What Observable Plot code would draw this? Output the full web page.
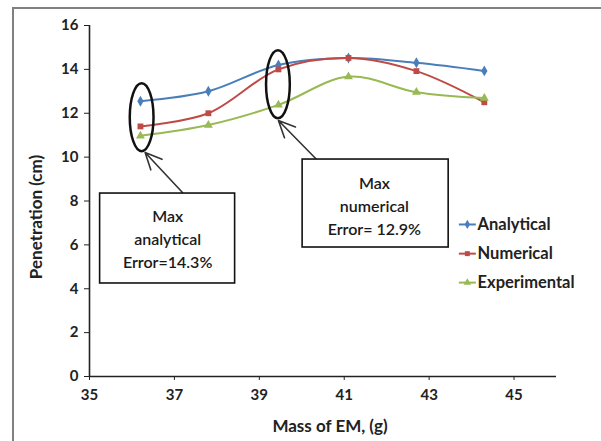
<!DOCTYPE html>
<html>
<head>
<meta charset="utf-8">
<script src="https://cdn.jsdelivr.net/npm/d3@7"></script>
<script src="https://cdn.jsdelivr.net/npm/@observablehq/plot@0.6"></script>
<style>
  body { margin: 0; background: white; }
  #chart svg { display: block; }
</style>
</head>
<body>
<div id="chart"></div>
<script>
// ---- Data ----
const mass = [36.2, 37.8, 39.45, 41.1, 42.7, 44.3];
const analytical = [12.55, 13.0, 14.2, 14.52, 14.3, 13.93];
const numerical = [11.4, 12.0, 14.0, 14.52, 13.92, 12.5];
const experimental = [10.97, 11.46, 12.38, 13.67, 12.96, 12.69];
const seriesNames = ["Analytical", "Numerical", "Experimental"];
const seriesColors = ["#4A7EBB", "#BE4B48", "#98B954"];
const seriesSymbols = ["diamond", "square", "triangle"];
const xTicks = [35, 37, 39, 41, 43, 45];
const yTicks = [0, 2, 4, 6, 8, 10, 12, 14, 16];

// annotations (data coordinates)
const ellipses = [
  {x: 36.24, y: 11.8, rx: 0.28, ry: 1.55},
  {x: 39.45, y: 13.3, rx: 0.28, ry: 1.55}
];
const boxes = [
  {x1: 35.25, x2: 38.43, y1: 4.24, y2: 8.34, text: "Max\nanalytical\nError=14.3%", tx: 36.84, ty: 6.34},
  {x1: 40.02, x2: 43.46, y1: 5.88, y2: 9.89, text: "Max\nnumerical\nError= 12.9%", tx: 41.71, ty: 7.84}
];
const arrows = [
  {x1: 37.19, y1: 8.39, x2: 36.31, y2: 10.21},
  {x1: 40.35, y1: 9.89, x2: 39.45, y2: 11.67}
];
const legendY = [6.93, 5.6, 4.28];

const rows = [];
[analytical, numerical, experimental].forEach((vals, s) => {
  vals.forEach((v, i) => rows.push({series: seriesNames[s], mass: mass[i], value: v}));
});
const legendRows = seriesNames.map((n, i) => ({series: n, y: legendY[i]}));

const font = "Lato, 'Open Sans', sans-serif";

const outerFrame = () => {
  return d3.create("svg:path")
    .attr("d", "M13,441V8H601")
    .attr("fill", "none")
    .attr("stroke", "#808080")
    .attr("stroke-width", 2).node();
};

const ellipseMark = (index, scales) => {
  const g = d3.create("svg:g");
  for (const e of ellipses) {
    const cx = scales.x(e.x), cy = scales.y(e.y);
    g.append("ellipse")
      .attr("cx", cx).attr("cy", cy)
      .attr("rx", Math.abs(scales.x(e.x + e.rx) - cx))
      .attr("ry", Math.abs(scales.y(e.y + e.ry) - cy))
      .attr("fill", "none").attr("stroke", "#111").attr("stroke-width", 2.5);
  }
  return g.node();
};

const chart = Plot.plot({
  width: 601,
  height: 441,
  marginLeft: 89,
  marginRight: 45,
  marginTop: 25,
  marginBottom: 65,
  style: {fontFamily: font, fontSize: "15px", fontWeight: "bold", color: "#222", background: "white"},
  x: {domain: [35, 46], ticks: xTicks, label: null},
  y: {domain: [0, 16], ticks: yTicks, label: null},
  color: {domain: seriesNames, range: seriesColors},
  symbol: {domain: seriesNames, range: seriesSymbols},
  marks: [
    outerFrame,
    Plot.axisX({ticks: xTicks, tickSize: 4, tickPadding: 9, fontSize: 15, fontWeight: "bold", stroke: "#222"}),
    Plot.axisY({ticks: yTicks, tickSize: 5, tickPadding: 6, fontSize: 15, fontWeight: "bold", stroke: "#222"}),
    Plot.ruleX([35], {stroke: "#222", strokeWidth: 1.6}),
    Plot.ruleY([0], {stroke: "#222", strokeWidth: 1.6}),
    Plot.text(["Penetration (cm)"], {frameAnchor: "left", textAnchor: "middle", lineAnchor: "middle", dx: -53, dy: 16, rotate: -90, fontSize: 17, fontWeight: "bold", fill: "#222"}),
    Plot.text(["Mass of EM, (g)"], {frameAnchor: "bottom", dy: 55, dx: 7, fontSize: 17, fontWeight: "bold", fill: "#222"}),
    Plot.line(rows, {x: "mass", y: "value", z: "series", stroke: "series", strokeWidth: 2, curve: "catmull-rom"}),
    Plot.dot(rows, {x: "mass", y: "value", symbol: "series", fill: "series", r: 3.3}),
    ellipseMark,
    Plot.arrow(arrows, {x1: "x1", y1: "y1", x2: "x2", y2: "y2", stroke: "#333", strokeWidth: 1.6, headLength: 18, headAngle: 50}),
    Plot.rect(boxes, {x1: "x1", x2: "x2", y1: "y1", y2: "y2", fill: "white", stroke: "#111", strokeWidth: 1.6}),
    Plot.text(boxes, {x: "tx", y: "ty", text: "text", lineAnchor: "middle", lineHeight: 1.45, fontSize: 16, fontWeight: 600, fill: "#1a1a1a"}),
    Plot.link(legendRows, {x1: 43.7, x2: 44.1, y1: "y", y2: "y", stroke: "series", strokeWidth: 2}),
    Plot.dot(legendRows, {x: 43.9, y: "y", symbol: "series", fill: "series", r: 2.8}),
    Plot.text(legendRows, {x: 44.14, y: "y", text: "series", textAnchor: "start", fontSize: 16.5, fontWeight: "bold", fill: "#222"})
  ]
});

document.getElementById("chart").append(chart);
</script>
</body>
</html>
